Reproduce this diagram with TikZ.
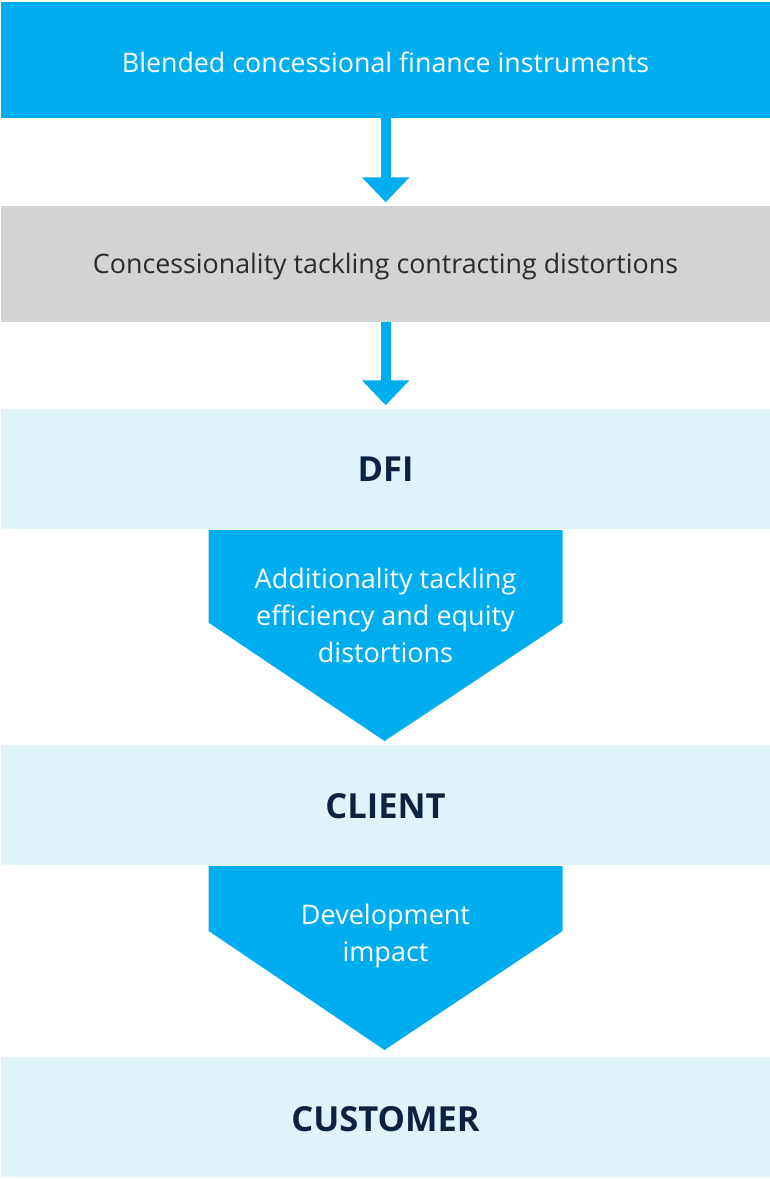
\documentclass[tikz,border=0pt]{standalone}
\usepackage{fontspec}
\setmainfont{Open Sans}
\usetikzlibrary{arrows.meta}
\definecolor{cblue}{HTML}{00AEEF}
\definecolor{cgray}{HTML}{D1D3D4}
\definecolor{clight}{HTML}{E0F3FB}
\definecolor{cnavy}{HTML}{0B2341}
\definecolor{ctext}{HTML}{2B2B2B}
\newcommand{\lowr}[2]{\raisebox{-#1}[\height][\depth]{#2}}
\tikzset{
  band/.style={rectangle, inner sep=0pt, minimum width=769pt, minimum height=116pt},
  bluebar/.style={band, fill=cblue, text=white, font=\fontsize{26.8}{32}\selectfont},
  graybar/.style={band, fill=cgray, text=ctext, font=\fontsize{26.8}{32}\selectfont},
  lightbar/.style={band, minimum height=120pt, fill=clight, text=cnavy, font=\fontsize{34.5}{40}\selectfont\bfseries},
  flowarrow/.style={draw=cblue, line width=10pt, -{Triangle[width=46pt,length=25pt]}, shorten >=3pt},
  chevtext/.style={text=white, align=center, inner sep=0pt, font=\fontsize{27}{37}\selectfont},
  chevron/.style={fill=cblue}
}
\begin{document}
\begin{tikzpicture}[x=1pt,y=-1pt]
\useasboundingbox (0,0) rectangle (770,1179);
\node[bluebar] (top) at (385.5,60) {\lowr{2pt}{Blended concessional finance instruments}};
\node[graybar] (mid) at (385.5,263.5) {\lowr{3pt}{Concessionality tackling contracting distortions}};
\node[lightbar] (dfi) at (385.5,468.5) {\lowr{1pt}{DFI}};
\node[lightbar] (client) at (385.5,804.5) {\lowr{2pt}{CLIENT}};
\node[lightbar] (cust) at (385.5,1117) {\lowr{2pt}{CUSTOMER}};
\draw[flowarrow] (top.south -| 385.7,0) -- (mid.north -| 385.7,0);
\draw[flowarrow] (mid.south -| 385.7,0) -- (dfi.north -| 385.7,0);
\fill[chevron] (208.7,530) -- (562.7,530) -- (562.7,622.7) -- (384.5,741) -- (208.7,622.7) -- cycle;
\node[chevtext] (add) at (385.5,615) {Additionality tackling\\efficiency and equity\\distortions};
\fill[chevron] (208.7,866) -- (562.7,866) -- (562.7,931) -- (384.5,1050) -- (208.7,931) -- cycle;
\node[chevtext] (dev) at (385.5,936) {Development\\impact};
\end{tikzpicture}
\end{document}
